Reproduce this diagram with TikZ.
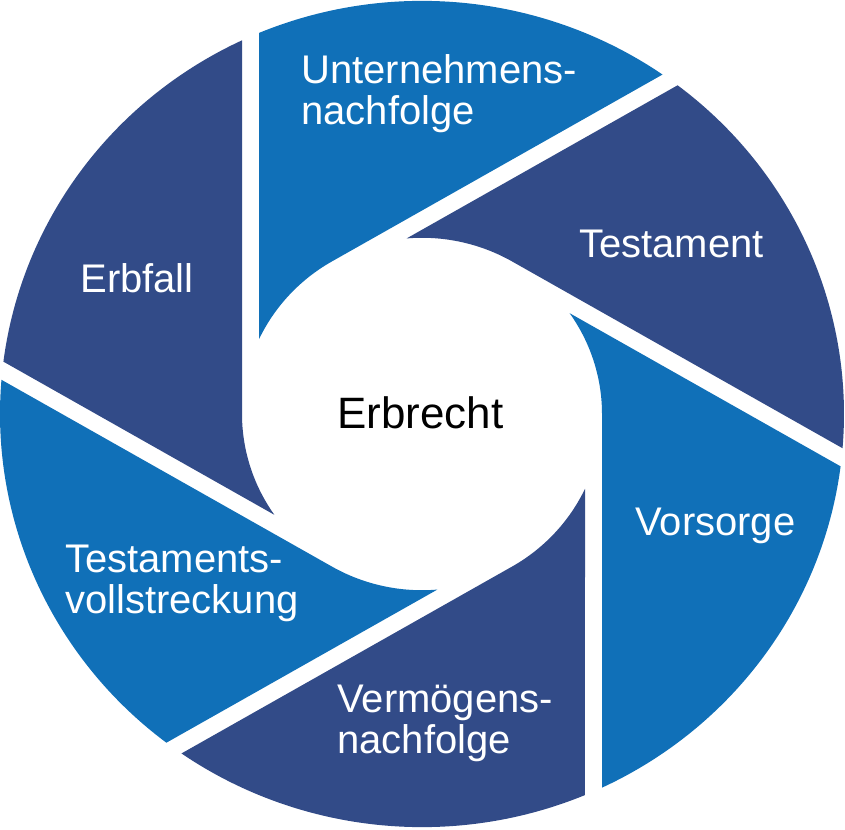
\documentclass[tikz,border=0pt]{standalone}
\usepackage{fontspec}
\setmainfont{Liberation Sans}
\definecolor{segBlue}{RGB}{16, 112, 184}
\definecolor{segDark}{RGB}{50, 75, 136}

\begin{document}
\begin{tikzpicture}[x=0.02cm, y=0.02cm,
    seglabel/.style={text=white, inner sep=0pt, align=left, font=\fontsize{22.75}{23.4}\selectfont}]
  \useasboundingbox (0,0) rectangle (845,829);

  \begin{scope}[shift={(422,415)}, yscale=0.979]
    % Erbfall
    \fill[segDark] (180:180) -- (115.25:422) arc[start angle=115.25, end angle=172.72, radius=422]
      -- (214.9:180) arc[start angle=214.9, end angle=180, radius=180] -- cycle;
    % Testamentsvollstreckung
    \fill[segBlue] (240:180) -- (175.25:422) arc[start angle=175.25, end angle=232.72, radius=422]
      -- (274.9:180) arc[start angle=274.9, end angle=240, radius=180] -- cycle;
    % Vermoegensnachfolge
    \fill[segDark] (300:180) -- (235.25:422) arc[start angle=235.25, end angle=292.72, radius=422]
      -- (334.9:180) arc[start angle=334.9, end angle=300, radius=180] -- cycle;
    % Vorsorge
    \fill[segBlue] (360:180) -- (295.25:422) arc[start angle=295.25, end angle=352.72, radius=422]
      -- (394.9:180) arc[start angle=394.9, end angle=360, radius=180] -- cycle;
    % Testament
    \fill[segDark] (60:180) -- (-4.75:422) arc[start angle=-4.75, end angle=52.72, radius=422]
      -- (94.9:180) arc[start angle=94.9, end angle=60, radius=180] -- cycle;
    % Unternehmensnachfolge
    \fill[segBlue] (120:180) -- (55.25:422) arc[start angle=55.25, end angle=112.72, radius=422]
      -- (154.9:180) arc[start angle=154.9, end angle=120, radius=180] -- cycle;
  \end{scope}

  \node[seglabel, anchor=north west] (unternehmen) at (301,775) {Unternehmens-\\nachfolge};
  \node[seglabel, anchor=base west] (testament) at (579,571) {Testament};
  \node[seglabel, anchor=base west] (erbfall) at (80,536) {Erbfall};
  \node[seglabel, anchor=base west] (vorsorge) at (635,294) {Vorsorge};
  \node[seglabel, anchor=north west] (vermoegen) at (337,144) {Vermögens-\\nachfolge};
  \node[seglabel, anchor=north west] (vollstreckung) at (65,284) {Testaments-\\vollstreckung};
  \node[anchor=base west, inner sep=0pt, font=\fontsize{25}{26}\selectfont] (erbrecht) at (337,400) {Erbrecht};
\end{tikzpicture}
\end{document}
